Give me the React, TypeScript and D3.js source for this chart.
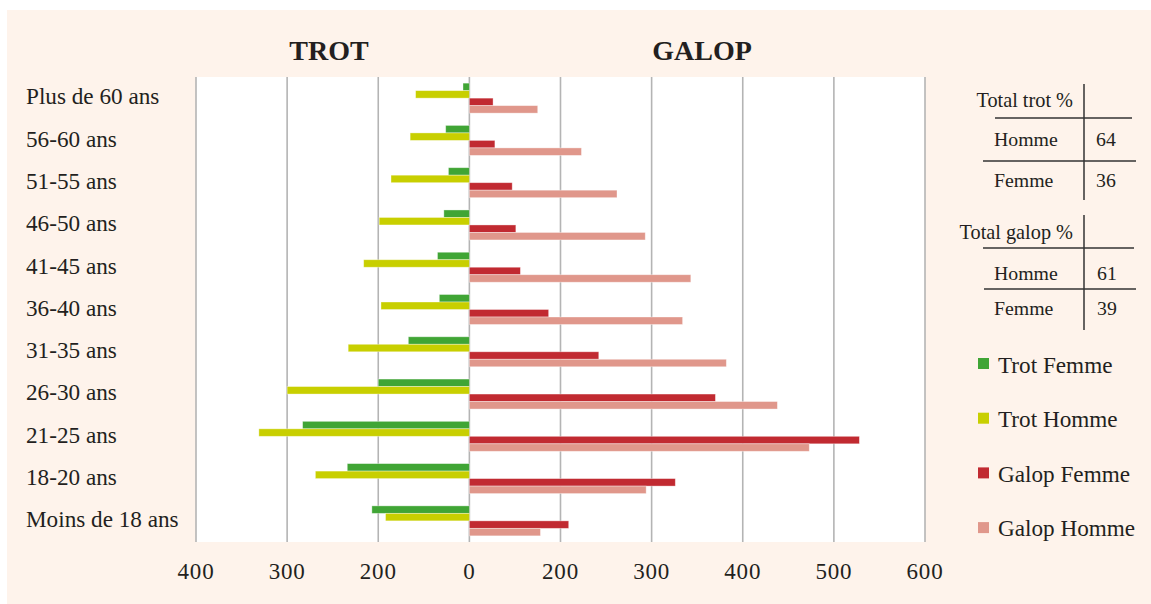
import React from "react";
import * as d3 from "d3";

const categories = [
  "Plus de 60 ans",
  "56-60 ans",
  "51-55 ans",
  "46-50 ans",
  "41-45 ans",
  "36-40 ans",
  "31-35 ans",
  "26-30 ans",
  "21-25 ans",
  "18-20 ans",
  "Moins de 18 ans",
];
const trotFemme = [7, 26, 23, 28, 35, 33, 67, 100, 183, 134, 107];
const trotHomme = [59, 65, 86, 99, 116, 97, 133, 200, 231, 169, 92];
const galopFemme = [26, 28, 47, 51, 56, 87, 142, 270, 428, 226, 109];
const galopHomme = [75, 123, 162, 193, 243, 234, 282, 338, 373, 194, 78];

const tickValues = [-300, -200, -100, 0, 100, 200, 300, 400, 500];
const tickLabels = ["400", "300", "200", "0", "200", "300", "400", "500", "600"];

const seriesNames = ["Trot Femme", "Trot Homme", "Galop Femme", "Galop Homme"];
const seriesColors = ["#40a535", "#c8cf00", "#c12a31", "#e0978b"];
const seriesSign = [-1, -1, 1, 1];
const seriesData = [trotFemme, trotHomme, galopFemme, galopHomme];

const tableTrot = [
  ["Homme", "64"],
  ["Femme", "36"],
];
const tableGalop = [
  ["Homme", "61"],
  ["Femme", "39"],
];

const W = 1151;
const H = 604;
const FONT = "'Liberation Serif', 'Times New Roman', serif";
const TEXT = "#231f20";

export default function App() {
  const x = d3.scaleLinear().domain([-300, 500]).range([196, 925]);
  const y = d3.scaleBand<string>().domain(categories).range([77, 542]).padding(0);
  const ys = d3
    .scaleBand<string>()
    .domain(seriesNames)
    .range([0, y.step()])
    .paddingInner(0)
    .paddingOuter(0.82);

  const x0 = x(0);

  return (
    <div style={{ position: "absolute", left: 0, top: 0 }}>
      <svg width={W} height={H} style={{ display: "block" }}>
        <rect x={0} y={0} width={W} height={H} fill="#ffffff" />
        <rect x={7} y={10} width={W - 7} height={H - 10} fill="#fef3eb" />
        <rect x={196} y={77} width={729} height={465} fill="#ffffff" />
        {tickValues.map((t) => (
          <line
            key={"g" + t}
            x1={x(t)}
            x2={x(t)}
            y1={77}
            y2={542}
            stroke="#b4b4b4"
            strokeWidth={1.6}
          />
        ))}
        {categories.map((c, i) => (
          <g key={c}>
            {seriesData.map((arr, s) => {
              const v = arr[i] * seriesSign[s];
              const xa = Math.min(x(v), x0);
              const w = Math.abs(x(v) - x0);
              return (
                <rect
                  key={s}
                  x={xa}
                  y={(y(c) as number) + (ys(seriesNames[s]) as number)}
                  width={w}
                  height={ys.bandwidth()}
                  fill={seriesColors[s]}
                  stroke="rgba(255,255,255,0.45)"
                  strokeWidth={0.8}
                />
              );
            })}
            <text
              x={26}
              y={(y(c) as number) + y.bandwidth() / 2 + 1}
              dominantBaseline="middle"
              fontFamily={FONT}
              fontSize={23.2}
              fill={TEXT}
            >
              {c}
            </text>
          </g>
        ))}
        {tickValues.map((t, i) => (
          <text
            key={"t" + t}
            x={x(t)}
            y={579}
            textAnchor="middle"
            fontFamily={FONT}
            fontSize={23}
            letterSpacing={0.8}
            fill={TEXT}
          >
            {tickLabels[i]}
          </text>
        ))}
        <text x={329} y={60} textAnchor="middle" fontFamily={FONT} fontWeight="bold" fontSize={28} fill={TEXT}>
          TROT
        </text>
        <text x={702} y={60} textAnchor="middle" fontFamily={FONT} fontWeight="bold" fontSize={28} fill={TEXT}>
          GALOP
        </text>

        {/* Table trot */}
        <g fontFamily={FONT} fill={TEXT}>
          <text x={1073} y={107} textAnchor="end" fontSize={20.3}>Total trot %</text>
          <line x1={1084} x2={1084} y1={84} y2={200} stroke="#333" strokeWidth={1.5} />
          <line x1={995} x2={1132} y1={118} y2={118} stroke="#333" strokeWidth={1.5} />
          <line x1={983} x2={1136} y1={161} y2={161} stroke="#333" strokeWidth={1.5} />
          {tableTrot.map((r, i) => (
            <g key={"tt" + i}>
              <text x={994} y={146 + i * 41} fontSize={19.8}>{r[0]}</text>
              <text x={1106} y={146 + i * 41} fontSize={19.8} textAnchor="middle">{r[1]}</text>
            </g>
          ))}
          <text x={1073} y={239} textAnchor="end" fontSize={20.3}>Total galop %</text>
          <line x1={1084} x2={1084} y1={215} y2={330} stroke="#333" strokeWidth={1.5} />
          <line x1={983} x2={1134} y1={248} y2={248} stroke="#333" strokeWidth={1.5} />
          <line x1={984} x2={1136} y1={289} y2={289} stroke="#333" strokeWidth={1.5} />
          {tableGalop.map((r, i) => (
            <g key={"tg" + i}>
              <text x={994} y={280 + i * 35} fontSize={19.8}>{r[0]}</text>
              <text x={1107} y={280 + i * 35} fontSize={19.8} textAnchor="middle">{r[1]}</text>
            </g>
          ))}
        </g>

        {/* Legend */}
        {seriesNames.map((n, i) => (
          <g key={n}>
            <rect x={978} y={358 + i * 54.7} width={11} height={11} fill={seriesColors[i]} />
            <text x={998} y={373 + i * 54.3} fontFamily={FONT} fontSize={23.2} fill={TEXT}>
              {n}
            </text>
          </g>
        ))}
      </svg>
    </div>
  );
}
